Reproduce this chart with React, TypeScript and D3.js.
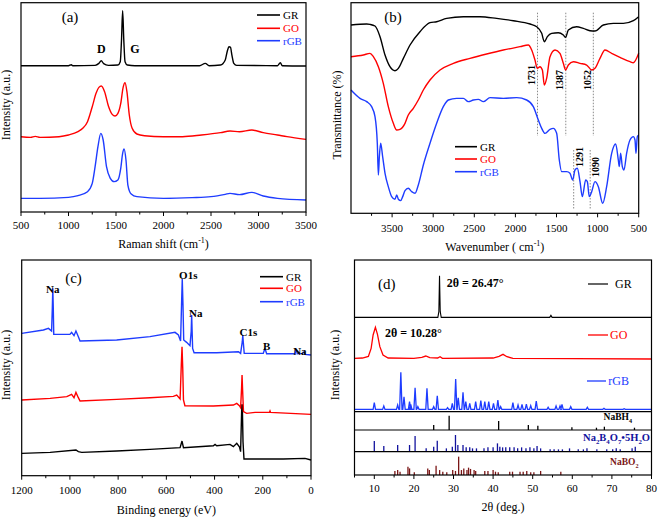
import React from "react";
import * as d3 from "d3";

type P = [number, number];

const FONT = "'Liberation Serif','Times New Roman',Times,serif";
const C_GR = "#000000";
const C_GO = "#ff0000";
const C_RGB = "#1e3cff";
const C_NAB4 = "#12129e";
const C_NABO2 = "#7a1616";

const seriesNames = ["GR", "GO", "rGB"];

// ---------------- (a) Raman ----------------
const ramanGR: P[] = [[500,439],[1000,439],[1030,442],[1045,439],[1280,440],[1320,446],[1345,454],[1370,445],[1420,440],[1520,441],[1545,451],[1558,516],[1570,604],[1582,516],[1595,451],[1620,441],[1700,439],[2380,439],[2440,446],[2480,439],[2600,441],[2650,456],[2670,481],[2690,496],[2705,494],[2720,471],[2740,446],[2770,440],[3200,439],[3230,448],[3250,439],[3500,438]];
const ramanGO: P[] = [[500,226],[600,224],[650,227],[700,224],[900,226],[1000,231],[1100,241],[1150,251],[1200,271],[1250,316],[1290,356],[1320,374],[1345,378],[1380,361],[1420,318],[1460,293],[1490,288],[1520,296],[1550,326],[1575,374],[1595,388],[1615,361],[1640,291],[1670,251],[1720,234],[1800,229],[2000,226],[2200,226],[2400,231],[2600,238],[2700,243],[2800,241],[2930,246],[3050,238],[3200,231],[3300,226],[3500,218]];
const ramanRGB: P[] = [[500,41],[700,41],[1000,44],[1100,49],[1200,61],[1250,86],[1280,136],[1310,196],[1340,236],[1365,216],[1400,136],[1440,101],[1480,91],[1520,96],[1550,131],[1570,176],[1585,189],[1605,156],[1625,81],[1660,54],[1720,46],[2000,41],[2300,43],[2500,46],[2650,53],[2700,56],[2800,52],[2930,59],[3050,48],[3200,41],[3500,36]];
const ramanTicks = [500,1000,1500,2000,2500,3000,3500];
const ramanMinor = [750,1250,1750,2250,2750,3250];
const ramanPeakLabels: [string, number][] = [["D",1345],["G",1700]];

// ---------------- (b) FTIR ----------------
const ftirGR: P[] = [[4000,565],[3809,568],[3769,567],[3708,562],[3647,530],[3586,475],[3526,440],[3465,428],[3424,435],[3363,465],[3282,505],[3161,545],[3039,572],[2958,575],[2836,585],[2633,590],[2431,590],[2228,585],[2025,578],[1822,568],[1741,560],[1680,540],[1648,515],[1611,530],[1559,540],[1478,542],[1417,535],[1389,528],[1356,550],[1255,560],[1174,555],[1093,548],[1032,547],[930,565],[809,570],[687,570],[565,578],[500,590]];
const ftirGO: P[] = [[4000,470],[3850,475],[3769,480],[3728,470],[3667,440],[3607,390],[3546,320],[3485,270],[3444,250],[3404,252],[3343,270],[3303,295],[3242,315],[3181,340],[3120,370],[3039,400],[2917,430],[2755,450],[2552,465],[2350,478],[2147,490],[1944,500],[1843,505],[1802,490],[1762,460],[1733,435],[1701,440],[1672,430],[1648,385],[1620,405],[1579,470],[1518,490],[1458,480],[1417,450],[1389,430],[1356,445],[1295,455],[1214,450],[1133,445],[1072,430],[1032,435],[971,465],[910,490],[829,480],[728,468],[606,455],[565,452],[500,480]];
const ftirRGB: P[] = [[4000,370],[3891,345],[3809,335],[3749,320],[3708,290],[3680,210],[3667,115],[3655,170],[3639,210],[3615,170],[3586,120],[3546,80],[3505,50],[3465,42],[3444,55],[3424,42],[3396,38],[3371,50],[3343,68],[3303,75],[3262,65],[3221,60],[3181,85],[3120,145],[3039,210],[2958,270],[2877,320],[2816,340],[2715,345],[2633,345],[2573,335],[2512,340],[2451,342],[2390,335],[2309,347],[2147,345],[1985,347],[1863,340],[1782,320],[1721,280],[1680,255],[1640,240],[1579,252],[1539,255],[1498,240],[1466,160],[1437,125],[1376,125],[1336,120],[1303,100],[1275,130],[1247,135],[1214,95],[1186,50],[1145,100],[1125,95],[1101,50],[1072,65],[1032,95],[991,80],[938,30],[890,80],[829,180],[780,208],[748,160],[736,140],[720,180],[699,140],[679,130],[647,180],[606,220],[565,230],[545,220],[533,180],[517,230],[500,235]];
const ftirTicks = [3500,3000,2500,2000,1500,1000,500];
const ftirMinor = [3750,3250,2750,2250,1750,1250,750];
const ftirMarksUpper = [1731, 1387, 1052];
const ftirMarksLower = [1291, 1090];

// ---------------- (c) XPS ----------------
const xpsGR: P[] = [[1200,67],[1082,70],[975,77],[965,72],[951,70],[806,74],[668,79],[543,84],[535,104],[529,84],[405,90],[398,94],[391,90],[336,94],[322,87],[308,97],[297,87],[292,72],[287,212],[285,212],[282,102],[278,50],[115,50],[25,52],[0,47]];
const xpsGO: P[] = [[1200,227],[1082,232],[1013,237],[993,244],[983,234],[975,250],[965,234],[958,224],[806,229],[668,234],[571,238],[557,242],[543,230],[538,332],[535,387],[532,322],[529,227],[523,210],[405,209],[322,212],[308,217],[297,210],[292,204],[288,262],[286,302],[284,262],[280,192],[267,187],[232,190],[172,190],[170,194],[168,190],[0,184]];
const xpsRGB: P[] = [[1200,427],[1110,437],[1089,442],[1076,434],[1073,502],[1071,562],[1069,502],[1067,424],[1000,424],[993,430],[983,420],[975,434],[965,417],[958,404],[806,407],[668,417],[564,430],[550,422],[541,404],[537,512],[534,590],[531,512],[528,407],[516,400],[502,390],[497,432],[495,482],[493,432],[491,382],[485,369],[391,369],[301,372],[292,367],[285,402],[283,422],[281,402],[277,367],[198,367],[192,380],[190,380],[184,366],[66,366],[63,379],[61,379],[57,366],[35,367],[29,372],[24,364],[0,362]];
const xpsTicks = [1200,1000,800,600,400,200,0];
const xpsMinor = [1100,900,700,500,300,100];
const xpsPeakLabels: [string, number, number][] = [["Na",1071,560],["O1s",509,603],["Na",478,487],["C1s",260,430],["B",184,390],["Na",46,375]];

// ---------------- (d) XRD ----------------
const xrdGR: P[] = [[5,283],[26.05,283],[26.3,300],[26.47,408],[26.65,300],[26.9,283],[54.3,283],[54.6,289],[54.9,283],[80,283]];
const xrdGO: P[] = [[5,160],[7,161],[8.5,166],[9.2,190],[9.7,230],[10.28,253],[10.8,232],[11.4,195],[12.2,170],[13.5,161],[20,160],[22,163],[23,167],[24,162],[26,161],[26.6,165],[27.2,160],[40,161],[41.5,166],[42.5,172],[43.5,165],[45,160],[60,159],[80,158]];
const xrdRGBBase = 7;
const xrdRGBPeaks: P[] = [[10.0,27],[12.4,17],[15.9,20],[16.7,118],[17.5,45],[18.9,30],[19.2,22],[20.3,72],[21.0,15],[23.3,70],[25.0,15],[25.9,48],[28.5,12],[29.7,25],[30.55,98],[31.2,42],[32.4,58],[33.1,30],[34.1,25],[35.6,30],[36.9,33],[37.9,30],[38.9,30],[40.1,25],[41.2,35],[41.9,15],[45.0,27],[46.3,20],[47.3,22],[48.4,23],[49.5,18],[50.9,32],[53.9,13],[55.9,17],[56.9,17],[57.4,22],[59.6,15],[63.8,13],[68.0,10],[73.1,9]];
const nabh4Sticks: P[] = [[25.0,35],[28.9,100],[41.4,63],[48.9,35],[51.3,30],[59.9,19],[66.1,16],[68.1,23],[75.7,16]];
const na2b4o7Sticks: P[] = [[10.0,64],[12.4,34],[15.9,40],[18.9,40],[20.3,94],[23.1,20],[25.0,30],[25.9,66],[28.2,20],[29.7,30],[30.5,100],[31.1,40],[32.4,40],[33.2,26],[34.1,26],[34.8,20],[35.8,20],[37.7,20],[38.7,26],[40.0,26],[41.1,50],[41.7,30],[42.4,26],[43.2,26],[44.2,26],[45.3,26],[46.2,20],[47.2,26],[48.3,20],[49.3,26],[50.3,20],[51.1,34],[52.0,20],[54.4,14],[55.4,14],[56.5,14],[57.5,14],[59.3,20],[61.5,14],[62.8,14],[63.7,20],[66.2,14],[68.7,14],[70.2,14],[71.1,20],[72.1,14],[75.1,20],[75.9,30]];
const nabo2Sticks: P[] = [[15.2,22],[15.9,27],[16.5,18],[18.5,45],[18.9,36],[20.1,15],[23.5,36],[23.9,27],[25.6,51],[26.5,27],[27.3,18],[28.3,15],[29.8,27],[30.5,22],[31.3,100],[32.0,27],[32.6,36],[33.4,27],[33.8,40],[34.3,33],[35.2,27],[35.6,22],[37.9,22],[38.7,22],[40.0,27],[40.6,18],[41.3,15],[44.2,18],[44.9,18],[46.8,18],[47.6,18],[48.5,22],[49.5,15],[50.3,15],[52.0,22],[57.1,18]];
const xrdTicks = [10,20,30,40,50,60,70,80];
const xrdMinor = [5,15,25,35,45,55,65,75];

const line = (x: any, y: any, curve: any = d3.curveLinear) =>
  d3.line<P>().x(d => x(d[0])).y(d => y(d[1])).curve(curve);

function BottomAxis({ x, yAxis, major, minor, labelY }: any) {
  return (
    <g>
      {minor.map((v: number) => (
        <line key={"m" + v} x1={x(v)} x2={x(v)} y1={yAxis} y2={yAxis + 2.5} stroke="#000" strokeWidth={1} />
      ))}
      {major.map((v: number) => (
        <g key={"M" + v}>
          <line x1={x(v)} x2={x(v)} y1={yAxis} y2={yAxis + 4} stroke="#000" strokeWidth={1} />
          <text x={x(v)} y={labelY} textAnchor="middle" fontSize={11}>{v}</text>
        </g>
      ))}
    </g>
  );
}

function Legend({ x0, x1, tx, ys, fs = 11 }: any) {
  const cols = [C_GR, C_GO, C_RGB];
  return (
    <g>
      {seriesNames.map((n, i) => (
        <g key={n}>
          <line x1={x0} x2={x1} y1={ys[i]} y2={ys[i]} stroke={cols[i]} strokeWidth={1.6} />
          <text x={tx} y={ys[i]} dy="0.35em" fontSize={fs} fill={cols[i]}>{n}</text>
        </g>
      ))}
    </g>
  );
}

function YTitle({ x, y, text }: any) {
  return (
    <text transform={`translate(${x},${y}) rotate(-90)`} textAnchor="middle" dominantBaseline="central" fontSize={12}>{text}</text>
  );
}

function PanelA() {
  const L = 21, R = 306, T = 2.7, B = 212;
  const x = d3.scaleLinear().domain([500, 3500]).range([L, R]);
  const y = d3.scaleLinear().domain([0, 628]).range([B, T]);
  const lg = line(x, y, d3.curveMonotoneX);
  return (
    <g>
      <path d={lg(ramanGR)!} fill="none" stroke={C_GR} strokeWidth={1.4} />
      <path d={lg(ramanGO)!} fill="none" stroke={C_GO} strokeWidth={1.4} />
      <path d={lg(ramanRGB)!} fill="none" stroke={C_RGB} strokeWidth={1.4} />
      <rect x={L} y={T} width={R - L} height={B - T} fill="none" stroke="#000" strokeWidth={1.2} />
      <BottomAxis x={x} yAxis={B} major={ramanTicks} minor={ramanMinor} labelY={229} />
      <text x={(L + R) / 2} y={248} textAnchor="middle" fontSize={12}>
        Raman shift (cm<tspan dy={-5} fontSize={8}>-1</tspan><tspan dy={5}>)</tspan>
      </text>
      <YTitle x={6} y={105} text="Intensity (a.u.)" />
      <text x={70} y={22} textAnchor="middle" fontSize={15}>(a)</text>
      {ramanPeakLabels.map(([t, v]) => (
        <text key={t} x={x(v)} y={53} textAnchor="middle" fontSize={12} fontWeight="bold">{t}</text>
      ))}
      <Legend x0={257} x1={280} tx={283} ys={[15, 28.3, 40.7]} />
    </g>
  );
}

function PanelB() {
  const L = 351, R = 638.7, T = 2.7, B = 213.3;
  const x = d3.scaleLinear().domain([4000, 500]).range([L, R]);
  const y = d3.scaleLinear().domain([0, 632]).range([B, T]);
  const lg = line(x, y, d3.curveMonotoneX);
  return (
    <g>
      {ftirMarksUpper.map(v => (
        <line key={v} x1={x(v)} x2={x(v)} y1={y(602)} y2={y(232)} stroke="#8a8a8a" strokeWidth={1} strokeDasharray="1.5,1.5" />
      ))}
      {ftirMarksLower.map(v => (
        <line key={v} x1={x(v)} x2={x(v)} y1={y(190)} y2={y(12)} stroke="#8a8a8a" strokeWidth={1} strokeDasharray="1.5,1.5" />
      ))}
      <path d={lg(ftirGR)!} fill="none" stroke={C_GR} strokeWidth={1.4} />
      <path d={lg(ftirGO)!} fill="none" stroke={C_GO} strokeWidth={1.4} />
      <path d={lg(ftirRGB)!} fill="none" stroke={C_RGB} strokeWidth={1.4} />
      {ftirMarksUpper.map((v, i) => (
        <text key={"t" + v} transform={`translate(${x(v) - 6},${i === 0 ? 75 : 80}) rotate(-90)`} textAnchor="middle" dominantBaseline="central" fontSize={10} fontWeight="bold">{v}</text>
      ))}
      {ftirMarksLower.map((v, i) => (
        <text key={"t" + v} transform={`translate(${x(v) + 5.5},${i === 0 ? 157 : 167}) rotate(-90)`} textAnchor="middle" dominantBaseline="central" fontSize={10} fontWeight="bold">{v}</text>
      ))}
      <rect x={L} y={T} width={R - L} height={B - T} fill="none" stroke="#000" strokeWidth={1.2} />
      <BottomAxis x={x} yAxis={B} major={ftirTicks} minor={ftirMinor} labelY={232} />
      <text x={(L + R) / 2} y={251} textAnchor="middle" fontSize={12}>
        Wavenumber ( cm<tspan dy={-5} fontSize={8}>-1</tspan><tspan dy={5}>)</tspan>
      </text>
      <YTitle x={337} y={115} text="Transmittance (%)" />
      <text x={393} y={22} textAnchor="middle" fontSize={15}>(b)</text>
      <Legend x0={455} x1={477} tx={480} ys={[146.7, 159, 171.7]} />
    </g>
  );
}

function PanelC() {
  const L = 21.7, R = 311, T = 260, B = 475.7;
  const x = d3.scaleLinear().domain([1200, 0]).range([L, R]);
  const y = d3.scaleLinear().domain([0, 647]).range([B, T]);
  const lg = line(x, y);
  return (
    <g>
      <path d={lg(xpsGR)!} fill="none" stroke={C_GR} strokeWidth={1.4} />
      <path d={lg(xpsGO)!} fill="none" stroke={C_GO} strokeWidth={1.4} />
      <path d={lg(xpsRGB)!} fill="none" stroke={C_RGB} strokeWidth={1.4} />
      <rect x={L} y={T} width={R - L} height={B - T} fill="none" stroke="#000" strokeWidth={1.2} />
      <BottomAxis x={x} yAxis={B} major={xpsTicks} minor={xpsMinor} labelY={494} />
      <text x={(L + R) / 2} y={514} textAnchor="middle" fontSize={12}>Binding energy (eV)</text>
      <YTitle x={6} y={365} text="Intensity (a.u.)" />
      <text x={73.5} y={283} textAnchor="middle" fontSize={15}>(c)</text>
      {xpsPeakLabels.map(([t, v, h], i) => (
        <text key={i} x={x(v)} y={y(h)} dy="0.35em" textAnchor="middle" fontSize={11} fontWeight="bold">{t}</text>
      ))}
      <Legend x0={260} x1={283} tx={286} ys={[276.7, 288.3, 301.7]} />
    </g>
  );
}

function SubText({ x, y, parts, fill, anchor = "end", fs = 9.5 }: any) {
  return (
    <text x={x} y={y} textAnchor={anchor} fontSize={fs} fontWeight="bold" fill={fill}>
      {parts.map((p: [string, boolean], i: number) => {
        const prevSub = i > 0 && parts[i - 1][1];
        const dy = p[1] ? (prevSub ? 0 : 3) : prevSub ? -3 : 0;
        return (
          <tspan key={i} dy={dy} fontSize={p[1] ? fs * 0.65 : fs}>{p[0]}</tspan>
        );
      })}
    </text>
  );
}

function PanelD() {
  const L = 354.5, R = 651.5, T = 260, B = 475;
  const M = 411.7, S1 = 430, S2 = 451.7;
  const x = d3.scaleLinear().domain([5, 80]).range([L, R]);
  const y = d3.scaleLinear().domain([0, 455]).range([M, T]);
  const lg = line(x, y);
  const hw = 0.3;
  const rgbPts: P[] = [[5, xrdRGBBase]];
  xrdRGBPeaks.forEach(([p, h]) => {
    rgbPts.push([p - hw, xrdRGBBase], [p, h], [p + hw, xrdRGBBase]);
  });
  rgbPts.push([80, xrdRGBBase]);
  const yS1 = d3.scaleLinear().domain([0, 128]).range([S1, M]);
  const yS2 = d3.scaleLinear().domain([0, 130]).range([S2, S1]);
  const yS3 = d3.scaleLinear().domain([0, 127]).range([B, S2]);
  const sticks = (data: P[], ys: any, col: string) =>
    data.map(([p, h], i) => (
      <line key={col + i} x1={x(p)} x2={x(p)} y1={ys(0)} y2={ys(h)} stroke={col} strokeWidth={1.3} />
    ));
  return (
    <g>
      <path d={lg(xrdGR)!} fill="none" stroke={C_GR} strokeWidth={1.1} />
      <path d={lg(xrdGO)!} fill="none" stroke={C_GO} strokeWidth={1.3} />
      <path d={lg(rgbPts)!} fill="none" stroke={C_RGB} strokeWidth={1.3} />
      {sticks(nabh4Sticks, yS1, "#000")}
      {sticks(na2b4o7Sticks, yS2, C_NAB4)}
      {sticks(nabo2Sticks, yS3, C_NABO2)}
      <line x1={L} x2={R} y1={M} y2={M} stroke="#000" strokeWidth={1.2} />
      <line x1={L} x2={R} y1={S1} y2={S1} stroke="#000" strokeWidth={1.2} />
      <line x1={L} x2={R} y1={S2} y2={S2} stroke="#000" strokeWidth={1.2} />
      <rect x={L} y={T} width={R - L} height={B - T} fill="none" stroke="#000" strokeWidth={1.2} />
      <BottomAxis x={x} yAxis={B} major={xrdTicks} minor={xrdMinor} labelY={492} />
      <text x={(L + R) / 2} y={511} textAnchor="middle" fontSize={12}>2θ  (deg.)</text>
      <YTitle x={335} y={365} text="Intensity (a.u.)" />
      <text x={386.7} y={289} textAnchor="middle" fontSize={15}>(d)</text>
      <text x={446.7} y={287} fontSize={12} fontWeight="bold">2θ = 26.47°</text>
      <text x={385} y={337} fontSize={12} fontWeight="bold">2θ = 10.28°</text>
      <line x1={588} x2={608} y1={284} y2={284} stroke={C_GR} strokeWidth={1.2} />
      <text x={615} y={284} dy="0.35em" fontSize={12}>GR</text>
      <line x1={588} x2={608} y1={335} y2={335} stroke={C_GO} strokeWidth={1.3} />
      <text x={610} y={335} dy="0.35em" fontSize={12} fill={C_GO}>GO</text>
      <line x1={587} x2={606} y1={381} y2={381} stroke={C_RGB} strokeWidth={1.3} />
      <text x={608.3} y={381} dy="0.35em" fontSize={12} fill={C_RGB}>rGB</text>
      <SubText x={632} y={420} fill="#000" parts={[["NaBH", false], ["4", true]]} />
      <SubText x={650} y={441} fs={10.5} fill={C_NAB4} parts={[["Na", false], ["2", true], ["B", false], ["4", true], ["O", false], ["7", true], ["•5H", false], ["2", true], ["O", false]]} />
      <SubText x={638.5} y={465} fill={C_NABO2} parts={[["NaBO", false], ["2", true]]} />
    </g>
  );
}

export default function App() {
  return (
    <svg width={661} height={518} style={{ position: "absolute", left: 0, top: 0, background: "#fff" }} fontFamily={FONT}>
      <rect width={661} height={518} fill="#fff" />
      <PanelA />
      <PanelB />
      <PanelC />
      <PanelD />
    </svg>
  );
}
